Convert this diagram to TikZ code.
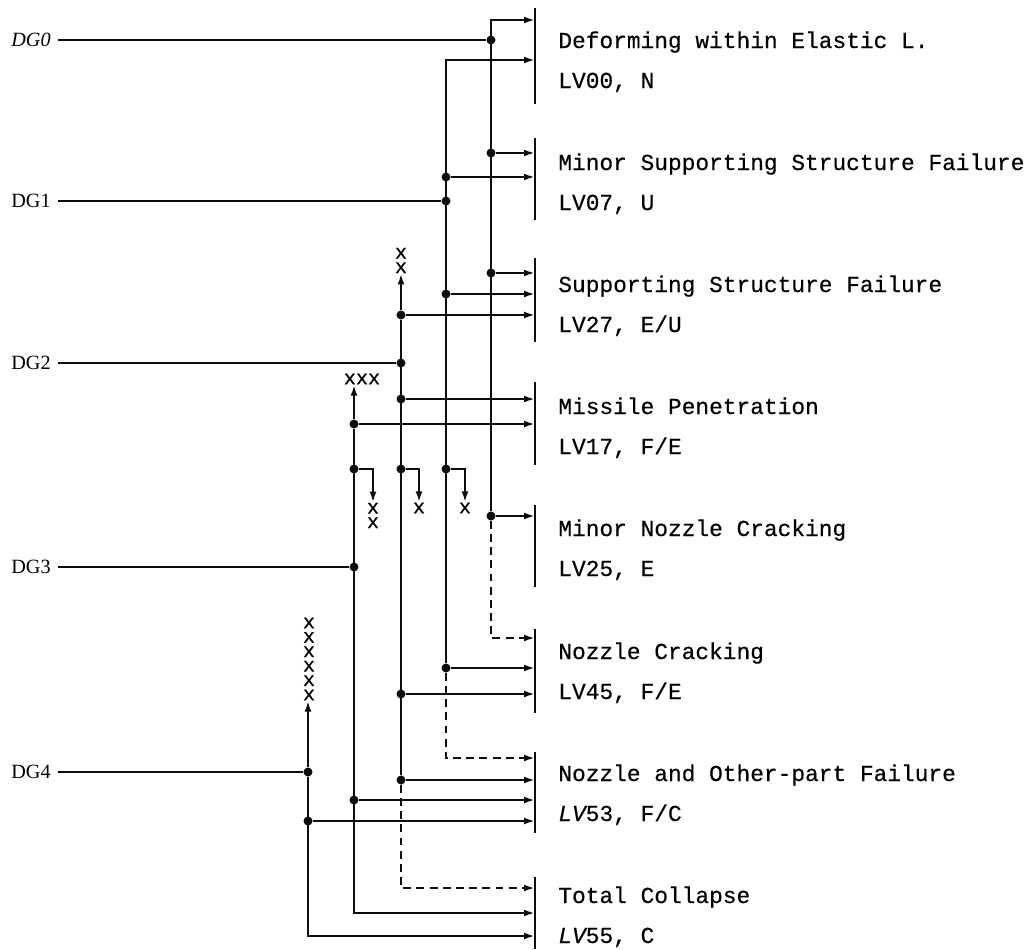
\documentclass[tikz,border=0pt]{standalone}
\usepackage{fontspec}
\setmainfont{Liberation Serif}
\setmonofont{Liberation Mono}[FakeBold=0.4]
\usetikzlibrary{arrows.meta}
\definecolor{reportink}{gray}{0.05}

\begin{document}
\begin{tikzpicture}[
  x=.2mm,y=-.2mm,
  wire/.style={draw=reportink,line width=1.3pt},
  feed/.style={wire,-{Latex[length=2.2mm,width=1.4mm]}},
  latent/.style={feed,dash pattern=on 4.5pt off 3pt},
  bar/.style={draw=reportink,line width=1.7pt},
  junction/.style={circle,fill=reportink,inner sep=0pt,minimum size=1.8mm},
  grade/.style={anchor=east,inner xsep=4pt,font=\fontsize{11.5}{13}\selectfont},
  outcome/.style={anchor=base west,inner sep=0pt,font=\ttfamily\fontsize{13}{15}\selectfont},
  marks/.style={align=center,inner sep=0pt,font=\ttfamily\fontsize{11.5}{8.2}\selectfont},
]
  \useasboundingbox (0,0) rectangle (1030,949);

  % Eight end states, each with its own landing bar.
  \foreach \t/\b [count=\i] in {8/104,138/220,258/342,382/465,505/587,629/713,752/833,877/949}
    {\coordinate (b\i) at (535,\t); \draw[bar] (b\i) -- (535,\b);}

  \node[outcome] (elastic) at (558,48) {Deforming within Elastic L.};
  \node[outcome] (lv00) at (558,88) {LV00, N};
  \node[outcome] (minorsup) at (558,170) {Minor Supporting Structure Failure};
  \node[outcome] (lv07) at (558,210) {LV07, U};
  \node[outcome] (support) at (558,292) {Supporting Structure Failure};
  \node[outcome] (lv27) at (558,332) {LV27, E/U};
  \node[outcome] (missile) at (558,414) {Missile Penetration};
  \node[outcome] (lv17) at (558,454) {LV17, F/E};
  \node[outcome] (minornoz) at (558,536) {Minor Nozzle Cracking};
  \node[outcome] (lv25) at (558,576) {LV25, E};
  \node[outcome] (nozzle) at (558,659) {Nozzle Cracking};
  \node[outcome] (lv45) at (558,699) {LV45, F/E};
  \node[outcome] (otherpart) at (558,781) {Nozzle and Other-part Failure};
  \node[outcome] (lv53) at (558,821) {{\itshape LV}53, F/C};
  \node[outcome] (collapse) at (558,903) {Total Collapse};
  \node[outcome] (lv55) at (558,943) {{\itshape LV}55, C};

  % Damage grades on the left.
  \node[grade] (dg0) at (58,40) {\textit{DG0}};
  \node[grade] (dg1) at (58,201) {DG1};
  \node[grade] (dg2) at (58,363) {DG2};
  \node[grade] (dg3) at (58,567) {DG3};
  \node[grade] (dg4) at (58,772) {DG4};

  % Junctions along the five columns.
  \node[junction] (d0in) at (491,40) {};
  \node[junction] (d0b) at (491,153) {};
  \node[junction] (d0c) at (491,273) {};
  \node[junction] (d0e) at (491,516) {};
  \node[junction] (d1b) at (446,177) {};
  \node[junction] (d1in) at (446,201) {};
  \node[junction] (d1c) at (446,294) {};
  \node[junction] (d1x) at (446,469) {};
  \node[junction] (d1f) at (446,668) {};
  \node[junction] (d2c) at (401,315) {};
  \node[junction] (d2in) at (401,363) {};
  \node[junction] (d2d) at (401,399) {};
  \node[junction] (d2x) at (401,469) {};
  \node[junction] (d2f) at (401,694) {};
  \node[junction] (d2g) at (401,780) {};
  \node[junction] (d3d) at (354,424) {};
  \node[junction] (d3x) at (354,469) {};
  \node[junction] (d3in) at (354,567) {};
  \node[junction] (d3g) at (354,800) {};
  \node[junction] (d4in) at (308,772) {};
  \node[junction] (d4g) at (308,821) {};

  \coordinate (c0) at (491,20);
  \coordinate (c1) at (446,60);
  \coordinate (c3) at (354,913);
  \coordinate (c4) at (308,936);
  \coordinate (k0) at (491,638);
  \coordinate (k1) at (446,758);
  \coordinate (k2) at (401,888);

  % Rejected branches end in x marks.
  \node[marks] (xx2) at (401,260.5) {x\\x};
  \node[marks] (xx3) at (362,379) {xxx};
  \node[marks] (xx4) at (309,659) {x\\x\\x\\x\\x\\x};
  \node[marks] (x3) at (373,515.5) {x\\x};
  \node[marks] (x2) at (419,508) {x};
  \node[marks] (x1) at (465,508) {x};

  \draw[wire] (dg0) -- (d0in);
  \draw[wire] (dg1) -- (d1in);
  \draw[wire] (dg2) -- (d2in);
  \draw[wire] (dg3) -- (d3in);
  \draw[wire] (dg4) -- (d4in);

  \draw[feed] (d0e) -- (c0) -- (c0 -| b1);
  \draw[feed] (d1f) -- (c1) -- (c1 -| b1);
  \draw[wire] (d2c) -- (d2g);
  \draw[feed] (d3d) -- (c3) -- (c3 -| b8);
  \draw[feed] (d4in) -- (c4) -- (c4 -| b8);

  \draw[feed] (d2c) -- (d2c |- xx2.south);
  \draw[feed] (d3d) -- (d3d |- xx3.south);
  \draw[feed] (d4in) -- (d4in |- xx4.south);
  \draw[feed] (d3x) -| (x3);
  \draw[feed] (d2x) -| (x2);
  \draw[feed] (d1x) -| (x1);

  \draw[feed] (d0b) -- (d0b -| b2);
  \draw[feed] (d1b) -- (d1b -| b2);
  \draw[feed] (d0c) -- (d0c -| b3);
  \draw[feed] (d1c) -- (d1c -| b3);
  \draw[feed] (d2c) -- (d2c -| b3);
  \draw[feed] (d2d) -- (d2d -| b4);
  \draw[feed] (d3d) -- (d3d -| b4);
  \draw[feed] (d0e) -- (d0e -| b5);
  \draw[feed] (d1f) -- (d1f -| b6);
  \draw[feed] (d2f) -- (d2f -| b6);
  \draw[feed] (d2g) -- (d2g -| b7);
  \draw[feed] (d3g) -- (d3g -| b7);
  \draw[feed] (d4g) -- (d4g -| b7);

  % Dashed paths carry the delayed escalation.
  \draw[latent] (d0e) -- (k0) -- (k0 -| b6);
  \draw[latent] (d1f) -- (k1) -- (k1 -| b7);
  \draw[latent] (d2g) -- (k2) -- (k2 -| b8);
\end{tikzpicture}
\end{document}
